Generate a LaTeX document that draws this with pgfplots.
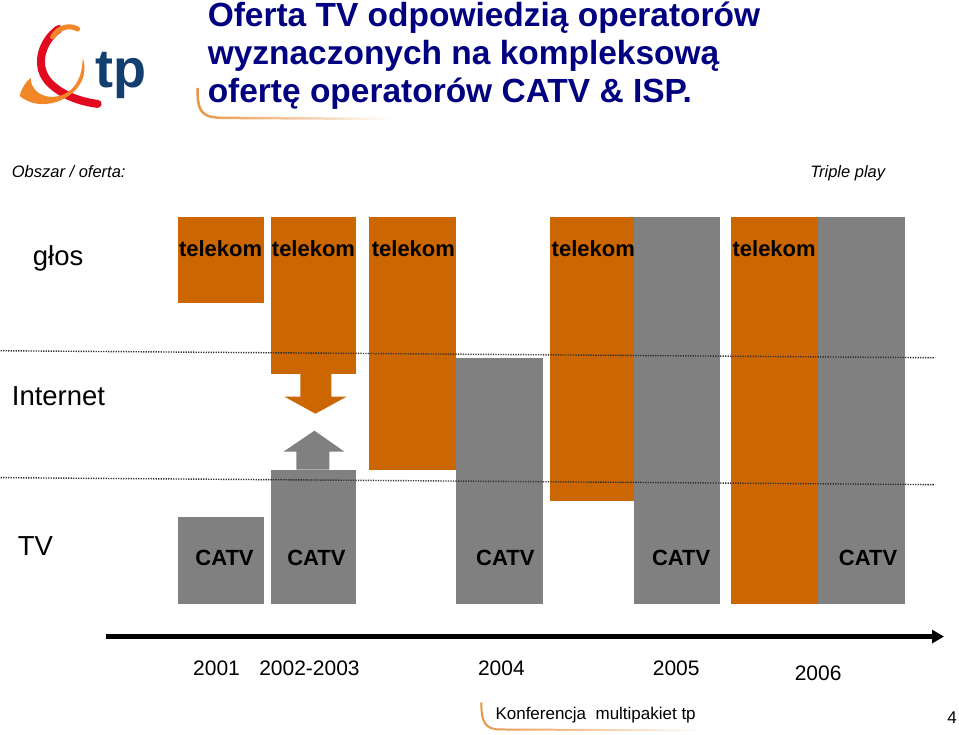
\documentclass[border=0pt]{standalone}
\usepackage{fontspec}
\setmainfont{Liberation Sans}
\usepackage{pgfplots}
\pgfplotsset{compat=1.18}
\usetikzlibrary{arrows.meta,fadings}

\definecolor{tpor}{RGB}{204,102,0}
\definecolor{tpgr}{RGB}{128,128,128}
\definecolor{tpnavy}{RGB}{0,0,128}
\definecolor{tpblue}{RGB}{18,62,112}
\definecolor{logored}{RGB}{226,10,30}
\definecolor{logoor}{RGB}{242,135,40}
\definecolor{swoosh}{RGB}{232,150,70}

% one block: colour, x left, x right, y top, y bottom (pixels from top)
\newcommand{\blok}[5]{\addplot[fill=#1,draw=none] coordinates {(#2,#4) (#3,#4) (#3,#5) (#2,#5)} -- cycle;}

\begin{document}
\begin{tikzpicture}
\begin{axis}[
    scale only axis, width=959bp, height=735bp,
    xmin=0, xmax=959, ymin=0, ymax=735,
    y dir=reverse, hide axis, clip=false,
  ]
  \fill[white] (0,0) rectangle (959,735);

  % 2001
  \blok{tpor}{177}{263}{217}{303}
  \blok{tpgr}{177}{263}{517}{604}
  % 2002-2003
  \blok{tpor}{270}{356}{217}{374}
  \blok{tpgr}{270}{356}{470}{604}
  \addplot[fill=tpor,draw=none] coordinates {(300,374) (331,374) (331,397) (346,397) (315,414) (284,397) (300,397)} -- cycle;
  \addplot[fill=tpgr,draw=none] coordinates {(296,470) (329,470) (329,452) (344,452) (314,431) (283,452) (296,452)} -- cycle;
  % 2004
  \blok{tpor}{369}{456}{217}{470}
  \blok{tpgr}{456}{543}{358}{604}
  % 2005
  \blok{tpor}{550}{634}{217}{501}
  \blok{tpgr}{634}{720}{217}{604}
  % 2006
  \blok{tpor}{731}{818}{217}{604}
  \blok{tpgr}{818}{905}{217}{604}

  % dotted separators
  \addplot[black!80, line width=1.4bp, dash pattern=on 1.3bp off 1.2bp] coordinates {(0,351) (935,358)};
  \addplot[black!80, line width=1.4bp, dash pattern=on 1.3bp off 1.2bp] coordinates {(0,478) (935,485)};

  % time line
  \addplot[black, line width=5bp, -{Triangle[length=12bp,width=13bp]}] coordinates {(105,637) (944,637)};

  \begin{scope}[every node/.style={font=\fontsize{22bp}{24bp}\selectfont\bfseries, text=black, anchor=base, inner sep=0pt}]
    \node at (220,257) {telekom};
    \node at (313,257) {telekom};
    \node at (413,257) {telekom};
    \node at (593,257) {telekom};
    \node at (774,257) {telekom};
    \node at (224,566) {CATV};
    \node at (316,566) {CATV};
    \node at (505,566) {CATV};
    \node at (681,566) {CATV};
    \node at (868,566) {CATV};
  \end{scope}

  \begin{scope}[every node/.style={font=\fontsize{27.5bp}{29bp}\selectfont, anchor=base west, inner sep=0pt}]
    \node at (32,266) {głos};
    \node at (11,406) {Internet};
    \node at (17,556) {TV};
  \end{scope}

  \begin{scope}[every node/.style={font=\fontsize{16.5bp}{18bp}\selectfont\itshape, anchor=base west, inner sep=0pt}]
    \node at (11,178) {Obszar / oferta:};
    \node at (810,178) {Triple play};
  \end{scope}

  \begin{scope}[every node/.style={font=\fontsize{21bp}{23bp}\selectfont, anchor=base, inner sep=0pt}]
    \node at (216,676) {2001};
    \node at (309,676) {2002-2003};
    \node at (501,676) {2004};
    \node at (676,676) {2005};
    \node at (818,681) {2006};
  \end{scope}

  % title
  \begin{scope}[every node/.style={font=\fontsize{33.5bp}{38bp}\selectfont\bfseries, text=tpnavy, anchor=base west, inner sep=0pt}]
    \node at (207,27) {Oferta TV odpowiedzią operatorów};
    \node at (207,65) {wyznaczonych na kompleksową};
    \node at (207,103) {ofertę operatorów CATV \& ISP.};
  \end{scope}
  \draw[swoosh, line width=2.5bp, path fading=east] (197,88) .. controls (197,112) and (200,118) .. (225,118) -- (390,119);

  % footer
  \draw[swoosh, line width=2bp, path fading=east] (481,703) .. controls (481,722) and (484,730) .. (500,730) -- (700,731);
  \node[font=\fontsize{17bp}{19bp}\selectfont, anchor=base west, inner sep=0pt] at (495,720) {Konferencja\ \ multipakiet tp};
  \node[font=\fontsize{17bp}{19bp}\selectfont, anchor=base, inner sep=0pt] at (952,724) {4};

  % logo
  \draw[logored, line width=8bp, line cap=round] (58,29) .. controls (40,42) and (33,68) .. (50,84) .. controls (64,97) and (82,102) .. (97,104);
  \draw[logoor, line width=5bp, line cap=round] (52,37) .. controls (57,28) and (68,24) .. (77,29);
  \fill[logoor] (82,58) .. controls (94,92) and (45,118) .. (19,96) .. controls (21,88) and (25,82) .. (30,78) .. controls (30,88) and (38,97) .. (52,97) .. controls (70,96) and (82,82) .. (82,58) -- cycle;
  \node[font=\fontsize{54bp}{56bp}\selectfont\bfseries, text=tpblue, anchor=base west, inner sep=0pt] at (95,88) {tp};
\end{axis}
\end{tikzpicture}
\end{document}
